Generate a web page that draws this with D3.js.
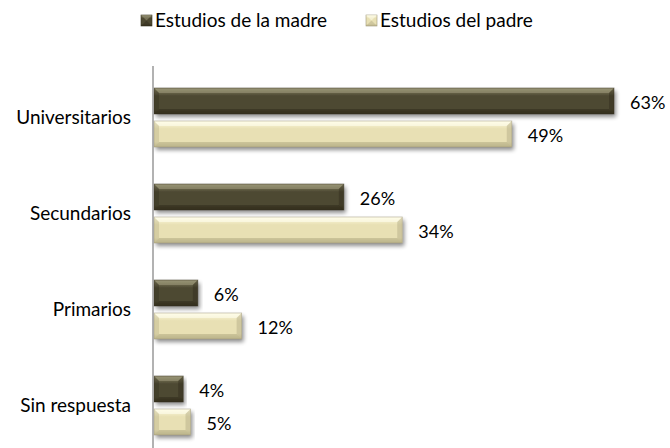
<!DOCTYPE html>
<html><head><meta charset="utf-8">
<script src="https://cdn.jsdelivr.net/npm/d3@7"></script>
<style>body{margin:0;background:#fff}svg{display:block}text{font-family:Lato,"Open Sans",sans-serif}</style>
</head><body><svg id="c" width="670" height="448"></svg>
<script>
const categories = ["Universitarios","Secundarios","Primarios","Sin respuesta"];
const seriesNames = ["Estudios de la madre","Estudios del padre"];
const madre = [63,26,6,4];
const padre = [49,34,12,5];

const svg = d3.select("#c");
const defs = svg.append("defs");
const colors = [
  {top:"#8c8869", mid:"#4e4932", bot:"#39341f", light:"#a09c7e", dark:"#2c281a", stroke:"#3a3624"},
  {top:"#fffbe0", mid:"#e8e0b4", bot:"#c9c196", light:"#fffff0", dark:"#aaa37c", stroke:"#9e977a"}
];
colors.forEach((c,i)=>{
  const g = defs.append("linearGradient").attr("id","g"+i).attr("x1",0).attr("y1",0).attr("x2",0).attr("y2",1);
  g.append("stop").attr("offset","0%").attr("stop-color",c.top);
  g.append("stop").attr("offset","30%").attr("stop-color",c.mid);
  g.append("stop").attr("offset","80%").attr("stop-color",c.mid);
  g.append("stop").attr("offset","100%").attr("stop-color",c.bot);
});
const f = defs.append("filter").attr("id","sh").attr("x","-5%").attr("y","-30%").attr("width","115%").attr("height","180%");
f.append("feGaussianBlur").attr("in","SourceAlpha").attr("stdDeviation",2).attr("result","b");
f.append("feOffset").attr("in","b").attr("dx",2).attr("dy",3).attr("result","o");
f.append("feComponentTransfer").attr("in","o").attr("result","o2").append("feFuncA").attr("type","linear").attr("slope",0.45);
const m = f.append("feMerge"); m.append("feMergeNode").attr("in","o2"); m.append("feMergeNode").attr("in","SourceGraphic");

const x0 = 154;
const x = d3.scaleLinear().domain([0,63]).range([x0,614]);
const y = d3.scaleBand().domain(categories).range([70,454]);
const inner = d3.scaleBand().domain([0,1]).range([y.bandwidth()*18/96, y.bandwidth()*77/96]).paddingInner(0.212);

const data = categories.map((c,i)=>({cat:c, vals:[madre[i],padre[i]]}));
const bw = inner.bandwidth();
const bev = 5;

data.forEach(d=>{
  d.vals.forEach((v,s)=>{
    const c = colors[s];
    const yy = y(d.cat)+inner(s);
    const x1 = x(0), x2 = x(v);
    const g = svg.append("g");
    g.append("rect").attr("x",x1).attr("y",yy).attr("width",x2-x1).attr("height",bw)
      .attr("fill","url(#g"+s+")").attr("filter","url(#sh)");
    g.append("polygon").attr("points",[[x1,yy],[x2,yy],[x2-bev,yy+bev],[x1+bev,yy+bev]].join(" "))
      .attr("fill",c.light).attr("opacity",0.55);
    g.append("polygon").attr("points",[[x1,yy+bw],[x2,yy+bw],[x2-bev,yy+bw-bev],[x1+bev,yy+bw-bev]].join(" "))
      .attr("fill",c.dark).attr("opacity",0.45);
    g.append("polygon").attr("points",[[x2,yy],[x2,yy+bw],[x2-bev,yy+bw-bev],[x2-bev,yy+bev]].join(" "))
      .attr("fill",c.dark).attr("opacity",0.4);
    g.append("polygon").attr("points",[[x1,yy],[x1,yy+bw],[x1+bev,yy+bw-bev],[x1+bev,yy+bev]].join(" "))
      .attr("fill",c.dark).attr("opacity",0.3);
    g.append("rect").attr("x",x1).attr("y",yy).attr("width",x2-x1).attr("height",bw)
      .attr("fill","none").attr("stroke",c.stroke).attr("stroke-width",0.8).attr("opacity",0.6);
    svg.append("text").attr("x",x2+16).attr("y",yy+bw/2+2).attr("dy","0.35em")
      .attr("font-size",18).attr("fill","#000").text(v+"%");
  });
});

const yAxis = d3.axisLeft(y).tickSize(0).tickPadding(22);
const ag = svg.append("g").attr("transform",`translate(${x0-1},0)`).call(yAxis);
ag.select(".domain").attr("stroke","#999").attr("stroke-width",1.5).attr("d","M0,66V448");
ag.selectAll("text").attr("font-size",19).attr("fill","#000").style("font-family","Lato, 'Open Sans', sans-serif");

const lx = [141,366];
seriesNames.forEach((n,i)=>{
  const g = svg.append("g").attr("transform",`translate(${lx[i]},15)`);
  g.append("rect").attr("width",11).attr("height",11).attr("fill","url(#g"+i+")").attr("stroke",colors[i].stroke).attr("stroke-width",0.6);
  g.append("polygon").attr("points","0,0 11,0 5.5,5.5").attr("fill",colors[i].light).attr("opacity",0.5);
  g.append("polygon").attr("points","0,11 11,11 5.5,5.5").attr("fill",colors[i].dark).attr("opacity",0.4);
  g.append("text").attr("x",14).attr("y",5.5).attr("dy","0.35em").attr("font-size",19).attr("fill","#000").text(n);
});
</script></body></html>
